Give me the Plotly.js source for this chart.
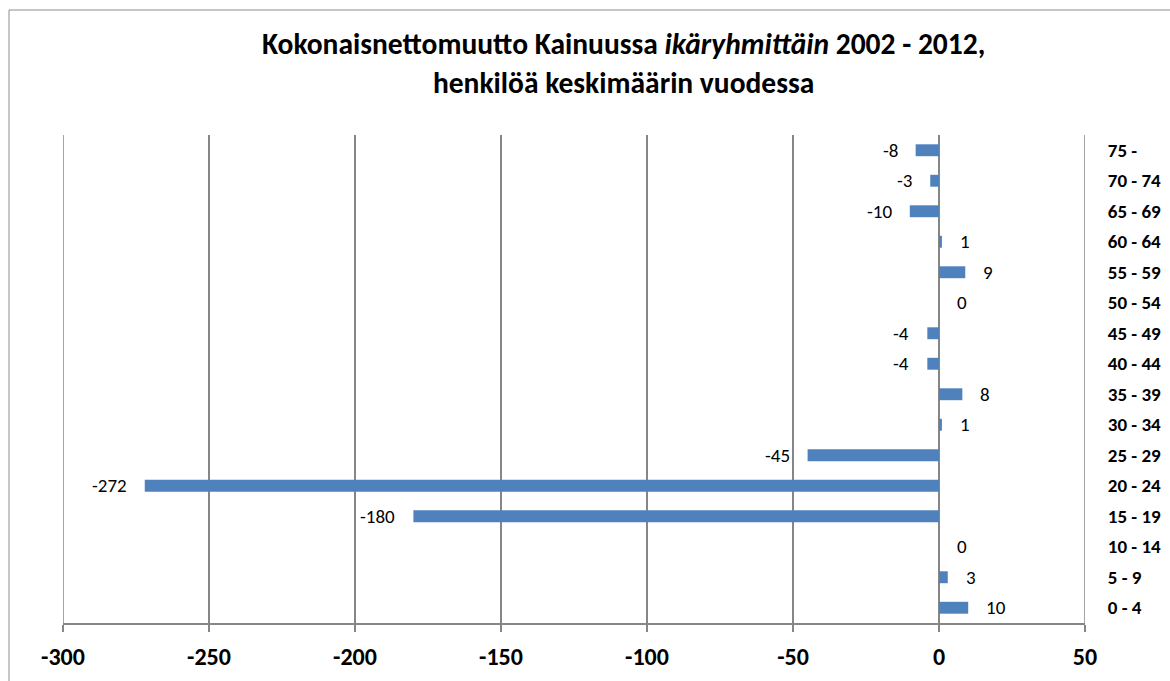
<!DOCTYPE html>
<html>
<head>
<meta charset="utf-8">
<script src="https://cdn.plot.ly/plotly-3.0.1.min.js"></script>
<style>html,body{margin:0;padding:0;background:#fff;}#chart{width:1170px;height:681px;}</style>
</head>
<body>
<div id="chart"></div>
<script>
var categories = ["0 - 4","5 - 9","10 - 14","15 - 19","20 - 24","25 - 29","30 - 34","35 - 39","40 - 44","45 - 49","50 - 54","55 - 59","60 - 64","65 - 69","70 - 74","75 -"];
var values = [10, 3, 0, -180, -272, -45, 1, 8, -4, -4, 0, 9, 1, -10, -3, -8];
var xTickVals = [-300, -250, -200, -150, -100, -50, 0, 50];
var xRange = [-300, 50];

var FONT = "Carlito, Calibri, Lato, 'Open Sans', sans-serif";
var GRID = "#868686";

var annotations = values.map(function (v, i) {
  return {
    x: v, y: categories[i], xref: "x", yref: "y",
    text: String(v), showarrow: false,
    xanchor: v < 0 ? "right" : "left",
    xshift: v < 0 ? -16 : 16,
    font: {family: FONT, size: 19, color: "#000"}
  };
});

var data = [{
  type: "bar", orientation: "h",
  x: values, y: categories,
  marker: {color: "#4F81BD", line: {width: 0}},
  hoverinfo: "x+y"
}];

// edge gridlines (Plotly drops gridlines lying on the plot edges)
var edgeLines = xRange.map(function (xv) {
  return {type: "line", xref: "x", yref: "paper", x0: xv, x1: xv, y0: 0, y1: 1,
          line: {color: GRID, width: 1.5}, layer: "below"};
});

var layout = {
  width: 1170, height: 681,
  margin: {l: 63, r: 85, t: 135, b: 58},
  paper_bgcolor: "#fff", plot_bgcolor: "#fff",
  showlegend: false,
  bargap: 0.61,
  font: {family: FONT, color: "#000"},
  title: {
    text: "<b>Kokonaisnettomuutto Kainuussa <i>ikäryhmittäin</i> 2002 - 2012,<br>henkilöä keskimäärin vuodessa</b>",
    x: 0.533, xanchor: "center", xref: "container",
    y: 0.92, yanchor: "top", yref: "container",
    font: {family: FONT, size: 29.5, color: "#000"}
  },
  xaxis: {
    range: xRange, tickvals: xTickVals, ticktext: xTickVals.map(String),
    showgrid: true, gridcolor: GRID, gridwidth: 1.5,
    zeroline: false,
    showline: true, linecolor: GRID, linewidth: 1.5,
    ticks: "outside", ticklen: 7, tickcolor: GRID, tickwidth: 1.5,
    ticklabelstandoff: 5,
    tickfont: {family: FONT, size: 24, color: "#000", weight: "bold"},
    fixedrange: true
  },
  yaxis: {
    type: "category", categoryorder: "array", categoryarray: categories,
    range: [-0.5, 15.5],
    side: "right", showgrid: false, zeroline: false, showline: false,
    ticks: "outside", ticklen: 18, tickcolor: "rgba(0,0,0,0)",
    tickfont: {family: FONT, size: 19, color: "#000", weight: "bold"},
    fixedrange: true
  },
  yaxis2: {
    overlaying: "y", anchor: "free", position: 300 / 350, side: "left",
    range: [-0.5, 15.5], tick0: -0.5, dtick: 1,
    showticklabels: false, showgrid: false, zeroline: false,
    showline: true, linecolor: GRID, linewidth: 1.5,
    ticks: "outside", ticklen: 6, tickcolor: GRID, tickwidth: 1.5,
    fixedrange: true
  },
  annotations: annotations,
  shapes: [{
    type: "rect", xref: "paper", yref: "paper",
    x0: (9 - 63) / 1022, x1: 1.3, y0: -0.3, y1: (623 - 10) / 488,
    line: {color: "#8c8c8c", width: 1}, layer: "below"
  }].concat(edgeLines)
};

Plotly.newPlot("chart", data, layout, {displayModeBar: false, staticPlot: true});
</script>
</body>
</html>
